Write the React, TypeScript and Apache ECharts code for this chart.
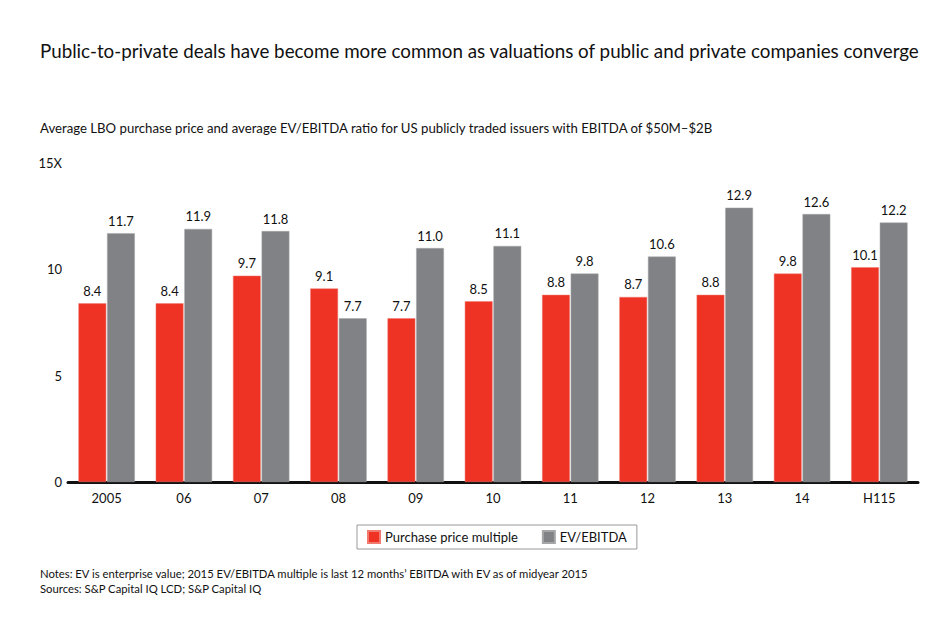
import React, { useEffect, useRef } from "react";
import * as echarts from "echarts";

const categories = ["2005", "06", "07", "08", "09", "10", "11", "12", "13", "14", "H115"];
const purchaseMultiple = [8.4, 8.4, 9.7, 9.1, 7.7, 8.5, 8.8, 8.7, 8.8, 9.8, 10.1];
const evEbitda = [11.7, 11.9, 11.8, 7.7, 11.0, 11.1, 9.8, 10.6, 12.9, 12.6, 12.2];
const yTicks = [0, 5, 10, 15];

const FONT = "'Century Gothic', 'Lato', 'DejaVu Sans', sans-serif";

export default function App() {
  const ref = useRef<HTMLDivElement>(null);
  useEffect(() => {
    const chart = echarts.init(ref.current!, undefined, { renderer: "svg" });
    chart.setOption({
      animation: false,
      backgroundColor: "#ffffff",
      textStyle: { fontFamily: FONT },
      title: {
        text: "Public-to-private deals have become more common as valuations of public and private companies converge",
        left: 35,
        top: 36,
        textStyle: { fontSize: 18.8, fontWeight: "normal", color: "#111", fontFamily: FONT },
      },
      graphic: [
        {
          type: "text",
          left: 40,
          top: 121,
          style: {
            text: "Average LBO purchase price and average EV/EBITDA ratio for US publicly traded issuers with EBITDA of $50M\u2013$2B",
            fontSize: 13.2,
            fill: "#111",
            fontFamily: FONT,
          },
        },
        {
          type: "text",
          left: 40,
          top: 566,
          style: {
            text: "Notes: EV is enterprise value; 2015 EV/EBITDA multiple is last 12 months\u2019 EBITDA with EV as of midyear 2015\nSources: S&P Capital IQ LCD; S&P Capital IQ",
            fontSize: 11.3,
            lineHeight: 15,
            fill: "#111",
            fontFamily: FONT,
          },
        },
      ],
      legend: {
        top: 525,
        left: 357,
        icon: "rect",
        itemWidth: 12,
        itemHeight: 12,
        itemGap: 24,
        borderColor: "#999",
        borderWidth: 1,
        padding: [5, 10, 5, 10],
        textStyle: { fontSize: 13, color: "#111", fontFamily: FONT },
        data: ["Purchase price multiple", "EV/EBITDA"],
      },
      grid: { left: 68, right: 32, top: 163, bottom: 153, containLabel: false },
      xAxis: {
        type: "category",
        data: categories,
        axisLine: { show: true, lineStyle: { color: "#111", width: 3 } },
        axisTick: { show: false },
        axisLabel: { fontSize: 13, color: "#111", margin: 9, fontFamily: FONT },
      },
      yAxis: {
        type: "value",
        min: 0,
        max: 15,
        interval: 5,
        axisLine: { show: false },
        axisTick: { show: false },
        splitLine: { show: false },
        axisLabel: {
          fontSize: 13,
          color: "#111",
          margin: 6,
          fontFamily: FONT,
          formatter: (v: number) => (v === yTicks[yTicks.length - 1] ? v + "X" : String(v)),
        },
      },
      series: [
        {
          name: "Purchase price multiple",
          type: "bar",
          data: purchaseMultiple,
          barGap: "3%",
          barCategoryGap: "27%",
          itemStyle: { color: "#EE3224", borderColor: "#f07a70", borderWidth: 0.5 },
          label: {
            show: true,
            position: "top",
            distance: 6,
            fontSize: 13,
            color: "#111",
            fontFamily: FONT,
            formatter: (p: any) => Number(p.value).toFixed(1),
          },
        },
        {
          name: "EV/EBITDA",
          type: "bar",
          data: evEbitda,
          itemStyle: { color: "#808285", borderColor: "#a5a6a8", borderWidth: 0.5 },
          label: {
            show: true,
            position: "top",
            distance: 6,
            fontSize: 13,
            color: "#111",
            fontFamily: FONT,
            formatter: (p: any) => Number(p.value).toFixed(1),
          },
        },
      ],
    });
    return () => chart.dispose();
  }, []);
  return <div ref={ref} style={{ width: 950, height: 635, margin: -8 }} />;
}
